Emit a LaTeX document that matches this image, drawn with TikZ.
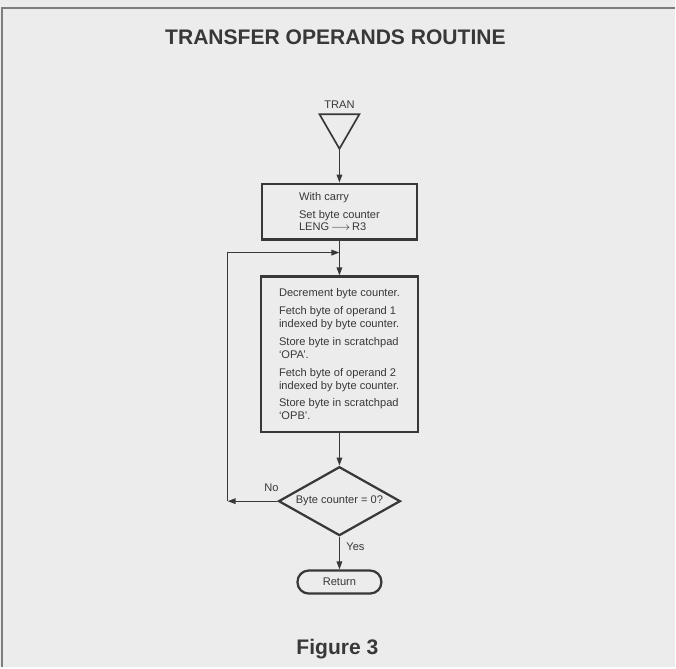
\documentclass[tikz,border=0pt]{standalone}
\usepackage{fontspec}
\setmainfont{Liberation Sans}
\usepackage{tikz}
\usetikzlibrary{arrows, arrows.meta}
\usetikzlibrary{positioning}
\usetikzlibrary{shapes.geometric}
\usepackage{xcolor}
\definecolor{paper}{HTML}{ECECEC}
\definecolor{ink}{HTML}{383838}
\definecolor{frameline}{HTML}{7E7E7E}

\newcommand{\smallprint}{\fontsize{7.9}{9.2}\selectfont}

\begin{document}
\begin{tikzpicture}[x=0.025cm, y=-0.025cm,
	line/.style={draw=ink, line width=0.9pt},
	flow/.style={line, -{Triangle[length=2mm, width=1.4mm]}},
	procbox/.style={draw=ink, line width=1.6pt, rectangle, align=left, inner sep=0pt, text=ink, font=\smallprint},
	tag/.style={text=ink, font=\smallprint, inner sep=1pt}]
	
	%page
	\fill[paper] (0,0) rectangle (676,668);
	\draw[frameline, line width=1.6pt] (676,8) -- (2,8) -- (2,668);
	
	%headings
	\node[text=ink, font=\fontsize{15}{18}\selectfont\bfseries] (title) at (336,37) {TRANSFER OPERANDS ROUTINE};
	\node[text=ink, font=\fontsize{15}{18}\selectfont\bfseries] (figtitle) at (338,650) {Figure 3};
	
	%entry
	\node[tag] (trantext) at (340,105) {TRAN};
	\node[draw=ink, line width=1.2pt, regular polygon, regular polygon sides=3, shape border rotate=180, minimum size=1.15cm, inner sep=0pt] (tran) at (340,126) {};
	
	%boxes
	\node[procbox, minimum width=3.875cm, minimum height=1.4cm] (setup) at (340,212) {With carry\\[3.5pt]
		Set byte counter\\
		LENG\,$\longrightarrow$\,R3};
	\node[procbox, minimum width=3.925cm, minimum height=3.9cm] (move) at (340,355) {Decrement byte counter.\\[3.5pt]
		Fetch byte of operand 1\\
		indexed by byte counter.\\[3.5pt]
		Store byte in scratchpad\\
		`OPA'.\\[3.5pt]
		Fetch byte of operand 2\\
		indexed by byte counter.\\[3.5pt]
		Store byte in scratchpad\\
		`OPB'.};
	\node[draw=ink, line width=1.6pt, diamond, aspect=1.77, inner sep=0pt, minimum width=3.05cm, minimum height=1.725cm, text=ink, font=\smallprint] (test) at (340,502) {Byte counter = 0?};
	\node[draw=ink, line width=1.6pt, rectangle, rounded corners=2.8mm, minimum width=2.1cm, minimum height=0.575cm, text=ink, font=\smallprint] (ret) at (340,583) {Return};
	
	%arrows
	\coordinate (merge) at (340,253);
	\coordinate (loop) at (228,502);
	\draw[flow] (tran.corner 1) -- (setup.north);
	\draw[flow] (setup.south) -- (move.north);
	\draw[flow] (move.south) -- (test.north);
	\draw[flow] (test.west) -- (loop);
	\draw[flow] (loop) |- (merge);
	\draw[flow] (test.south) -- (ret.north);
	
	%labels
	\node[tag] (nolabel) at (272,489) {No};
	\node[tag] (yeslabel) at (356,548) {Yes};
	
\end{tikzpicture}
\end{document}
